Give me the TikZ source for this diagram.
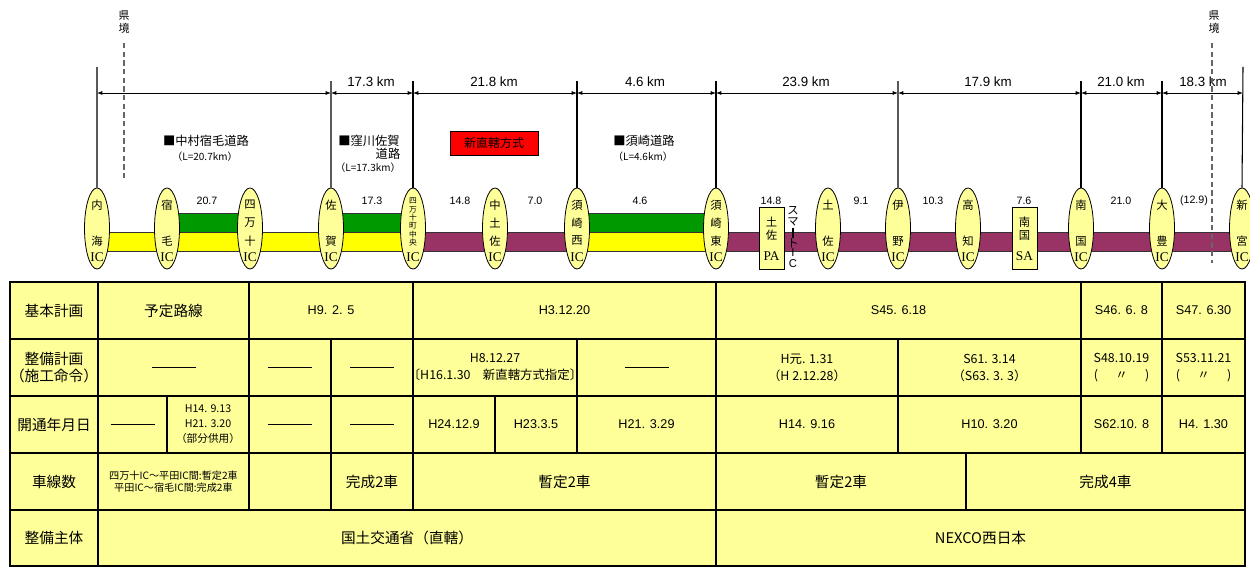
\documentclass[tikz,border=0pt]{standalone}
\usepackage{fontspec}
\usepackage{graphicx}
\setmainfont{Noto Sans CJK JP}
\newfontfamily\lat{Liberation Sans}
\newfontfamily\ser{Liberation Serif}
\usetikzlibrary{arrows.meta,shapes.geometric}
\definecolor{pale}{HTML}{FFFF99}
\definecolor{roady}{HTML}{FFFF00}
\definecolor{roadg}{HTML}{009900}
\definecolor{roadp}{HTML}{993366}
\definecolor{redfill}{HTML}{FF0000}
\newcommand\myfs[1]{\fontsize{#1}{#1}\selectfont}
\newcommand\dashbar{\rule{33pt}{1.1pt}}
\tikzset{
  icshape/.style={ellipse, draw=black, line width=0.6pt, fill=pale, minimum width=18.75pt, minimum height=60.75pt, inner sep=0pt},
  icch/.style={inner sep=0pt, font={\myfs{8.5}}},
  icsm/.style={inner sep=0pt, font={\myfs{5.8}}},
  icic/.style={inner sep=0pt, font={\ser\myfs{10}}},
  boxshape/.style={rectangle, draw=black, line width=0.6pt, fill=pale, minimum width=18.75pt, minimum height=46.5pt, inner sep=0pt},
  vlineg/.style={draw=black!65, line width=1.1pt},
  vlinek/.style={draw=black, line width=0.8pt},
  dim/.style={line width=0.6pt, {Latex[length=4pt,width=3pt]}-{Latex[length=4pt,width=3pt]}},
  pref/.style={draw=black!60, line width=0.9pt, dash pattern=on 4pt off 2.5pt},
  band/.style={draw=black!80, line width=0.5pt},
  cellbox/.style={fill=pale, draw=black, line width=0.9pt},
  dimlab/.style={inner sep=0pt, font={\lat\myfs{10}}},
  seglab/.style={inner sep=0pt, font={\lat\myfs{8}}},
  roadname/.style={inner sep=0pt, font={\myfs{9.2}}},
  roadlen/.style={inner sep=0pt, font={\myfs{7.5}}},
  kenlab/.style={inner sep=0pt, font={\myfs{8.2}}, align=center},
}
\newcommand\ictwo[4]{%
  \node[icshape] (#1) at (#2,228.5) {};
  \node[icch] (#1-a) at (#2,205) {#3};
  \node[icch] (#1-b) at (#2,241) {#4};
  \node[icic] (#1-ic) at (#2,257) {IC};}
\newcommand\icthree[5]{%
  \node[icshape] (#1) at (#2,228.5) {};
  \node[icch] (#1-a) at (#2,205) {#3};
  \node[icch] (#1-b) at (#2,223) {#4};
  \node[icch] (#1-c) at (#2,241) {#5};
  \node[icic] (#1-ic) at (#2,257) {IC};}
\newcommand\cell[7]{%
  \draw[cellbox] (#2,#3) rectangle (#4,#5);
  \node[align=center, inner sep=0pt, font={#6}] (#1) at ({(#2+#4)/2},{(#3+#5)/2}) {#7};}
\newcommand\fHd{\fontsize{11}{13}\selectfont}
\newcommand\fDt{\lat\fontsize{9.5}{12.75}\selectfont}
\newcommand\fMx{\fontsize{9.3}{12.75}\selectfont}
\newcommand\fSm{\fontsize{8}{11.25}\selectfont}
\newcommand\fTn{\fontsize{7.6}{9}\selectfont}
\begin{document}
\begin{tikzpicture}[x=0.75pt,y=-0.75pt]
\useasboundingbox (0,0) rectangle (1250,573);
\fill[white] (0,0) rectangle (1250,573);
\begin{scope}
\clip (0,0) rectangle (1250,573);

% prefecture border labels
\node[kenlab] (kenL) at (124,22) {県\\[1.8pt]境};
\node[kenlab] (kenR) at (1214,22) {県\\[1.8pt]境};

% dimension line
\coordinate (p0) at (97,93);
\coordinate (p1) at (331,93);
\coordinate (p2) at (413,93);
\coordinate (p3) at (577,93);
\coordinate (p4) at (716,93);
\coordinate (p5) at (898,93);
\coordinate (p6) at (1081,93);
\coordinate (p7) at (1162,93);
\coordinate (p8) at (1243,93);
\draw[dim] (p0) -- (p1);
\draw[dim] (p1) -- (p2);
\draw[dim] (p2) -- (p3);
\draw[dim] (p3) -- (p4);
\draw[dim] (p4) -- (p5);
\draw[dim] (p5) -- (p6);
\draw[dim] (p6) -- (p7);
\draw[dim] (p7) -- (p8);
\node[dimlab] (k1) at (371,82) {17.3 km};
\node[dimlab] (k2) at (494,82) {21.8 km};
\node[dimlab] (k3) at (645,82) {4.6 km};
\node[dimlab] (k4) at (806,82) {23.9 km};
\node[dimlab] (k5) at (988,82) {17.9 km};
\node[dimlab] (k6) at (1121,82) {21.0 km};
\node[dimlab] (k7) at (1203,82) {18.3 km};

% road names
\node[roadname] (n1) at (206,141) {■中村宿毛道路};
\node[roadlen] (n1l) at (205,157) {（L=20.7km）};
\node[roadname] (n2) at (369,141) {■窪川佐賀};
\node[roadname] (n2b) at (388,154) {道路};
\node[roadlen] (n2l) at (368,168) {（L=17.3km）};
\node[draw=black, line width=0.6pt, fill=redfill, text=black, minimum width=66pt, minimum height=18pt, inner sep=0pt, font={\myfs{9}}] (shin) at (494,143) {新直轄方式};
\node[roadname] (n3) at (644,141) {■須崎道路};
\node[roadlen] (n3l) at (643,157) {（L=4.6km）};

% road bands
\draw[band, fill=roady] (97,232) rectangle (413,251);
\draw[band, fill=roadg] (167,213) rectangle (250,232);
\draw[band, fill=roadg] (331,213) rectangle (413,232);
\draw[band, fill=roadp] (413,232) rectangle (577,251);
\draw[band, fill=roady] (577,232) rectangle (716,251);
\draw[band, fill=roadg] (577,213) rectangle (716,232);
\draw[band, fill=roadp] (716,232) rectangle (1252,251);

% segment lengths
\node[seglab] (s1) at (207,201) {20.7};
\node[seglab] (s2) at (372,201) {17.3};
\node[seglab] (s3) at (460,201) {14.8};
\node[seglab] (s4) at (535,201) {7.0};
\node[seglab] (s5) at (640,201) {4.6};
\node[seglab] (s6) at (771,201) {14.8};
\node[seglab] (s7) at (861,201) {9.1};
\node[seglab] (s8) at (933,201) {10.3};
\node[seglab] (s9) at (1024,201) {7.6};
\node[seglab] (s10) at (1121,201) {21.0};
\node[seglab] (s11) at (1194,201) {(12.9)};

% interchanges
\ictwo{uchiumi}{97}{内}{海}
\ictwo{sukumo}{167}{宿}{毛}
\icthree{shimanto}{250}{四}{万}{十}
\ictwo{saga}{331}{佐}{賀}
\node[icshape] (chuo) at (413,228.5) {};
\node[icsm] (chuo-1) at (413,201) {四};
\node[icsm] (chuo-2) at (413,209.4) {万};
\node[icsm] (chuo-3) at (413,217.8) {十};
\node[icsm] (chuo-4) at (413,226.2) {町};
\node[icsm] (chuo-5) at (413,234.6) {中};
\node[icsm] (chuo-6) at (413,243) {央};
\node[icic] (chuo-ic) at (413,257) {IC};
\icthree{nakatosa}{495}{中}{土}{佐}
\icthree{susakinishi}{577}{須}{崎}{西}
\icthree{susakihigashi}{716}{須}{崎}{東}
\ictwo{tosa}{828}{土}{佐}
\ictwo{ino}{898}{伊}{野}
\ictwo{kochi}{968}{高}{知}
\ictwo{nankoku}{1081}{南}{国}
\ictwo{otoyo}{1162}{大}{豊}
\ictwo{shingu}{1242}{新}{宮}

% parking / service areas
\node[boxshape] (pa) at (771.5,238) {};
\node[icch] (pa-a) at (771.5,222) {土};
\node[icch] (pa-b) at (771.5,235) {佐};
\node[icic] (pa-c) at (771.5,256) {PA};
\node[boxshape] (sa) at (1024.5,238.5) {};
\node[icch] (sa-a) at (1024.5,222) {南};
\node[icch] (sa-b) at (1024.5,235) {国};
\node[icic] (sa-c) at (1024.5,256) {SA};

% smart IC label
\node[icch] (sm1) at (793,211) {ス};
\node[icch] (sm2) at (793,222) {マ};
\node[inner sep=0pt] (sm3) at (793,233) {\rule{0.8pt}{8pt}};
\node[icch] (sm4) at (793,243) {ト};
\node[inner sep=0pt, font={\lat\myfs{8.5}}] (sm5) at (793,253) {I};
\node[inner sep=0pt, font={\lat\myfs{8.5}}] (sm6) at (793,264) {C};

% vertical lines
\draw[vlineg] (97,67) -- (uchiumi.north);
\draw[vlineg] (331,81) -- (saga.north);
\draw[vlinek] (413,81) -- (chuo.north);
\draw[vlinek] (577,81) -- (susakinishi.north);
\draw[vlinek] (716,81) -- (susakihigashi.north);
\draw[vlineg] (898,81) -- (ino.north);
\draw[vlinek] (1081,81) -- (nankoku.north);
\draw[vlinek] (1162,81) -- (otoyo.north);
\draw[vlinek] (1243,67) -- (shingu.north);

% prefecture borders
\coordinate (bl1) at (124,43);
\coordinate (bl2) at (124,178);
\coordinate (br1) at (1212,43);
\coordinate (br2) at (1212,263);
\draw[pref] (bl1) -- (bl2);
\draw[pref] (br1) -- (br2);

% table
\cell{h1}{10}{282}{98}{339}{\fHd}{基本計画}
\cell{h2}{10}{339}{98}{396}{\fHd}{整備計画\\（施工命令）}
\cell{h3}{10}{396}{98}{453}{\fHd}{開通年月日}
\cell{h4}{10}{453}{98}{510}{\fHd}{車線数}
\cell{h5}{10}{510}{98}{566}{\fHd}{整備主体}

\cell{a1}{98}{282}{249}{339}{\fHd}{予定路線}
\cell{a2}{249}{282}{413}{339}{\fDt}{H9. 2. 5}
\cell{a3}{413}{282}{716}{339}{\fDt}{H3.12.20}
\cell{a4}{716}{282}{1081}{339}{\fDt}{S45. 6.18}
\cell{a5}{1081}{282}{1162}{339}{\fDt}{S46. 6. 8}
\cell{a6}{1162}{282}{1245}{339}{\fDt}{S47. 6.30}

\cell{b1}{98}{339}{249}{396}{\fDt}{\dashbar}
\cell{b2}{249}{339}{331}{396}{\fDt}{\dashbar}
\cell{b3}{331}{339}{413}{396}{\fDt}{\dashbar}
\cell{b4}{413}{339}{577}{396}{\fMx}{H8.12.27\\〔H16.1.30　新直轄方式指定〕}
\cell{b5}{577}{339}{716}{396}{\fDt}{\dashbar}
\cell{b6}{716}{339}{898}{396}{\fMx}{H元. 1.31\\（H 2.12.28）}
\cell{b7}{898}{339}{1081}{396}{\fMx}{S61. 3.14\\（S63. 3. 3）}
\cell{b8}{1081}{339}{1162}{396}{\fMx}{S48.10.19\\(\hspace{1.4em}〃\hspace{1.4em})}
\cell{b9}{1162}{339}{1245}{396}{\fMx}{S53.11.21\\(\hspace{1.4em}〃\hspace{1.4em})}

\cell{c1}{98}{396}{167}{453}{\fDt}{\dashbar}
\cell{c2}{167}{396}{249}{453}{\fSm}{H14. 9.13\\H21. 3.20\\（部分供用）}
\cell{c3}{249}{396}{331}{453}{\fDt}{\dashbar}
\cell{c4}{331}{396}{413}{453}{\fDt}{\dashbar}
\cell{c5}{413}{396}{495}{453}{\fDt}{H24.12.9}
\cell{c6}{495}{396}{577}{453}{\fDt}{H23.3.5}
\cell{c7}{577}{396}{716}{453}{\fDt}{H21. 3.29}
\cell{c8}{716}{396}{898}{453}{\fDt}{H14. 9.16}
\cell{c9}{898}{396}{1081}{453}{\fDt}{H10. 3.20}
\cell{c10}{1081}{396}{1162}{453}{\fDt}{S62.10. 8}
\cell{c11}{1162}{396}{1245}{453}{\fDt}{H4. 1.30}

\cell{d1}{98}{453}{249}{510}{\fTn}{四万十IC～平田IC間:暫定2車\\平田IC～宿毛IC間:完成2車}
\cell{d2}{249}{453}{331}{510}{\fHd}{}
\cell{d3}{331}{453}{413}{510}{\fHd}{完成2車}
\cell{d4}{413}{453}{716}{510}{\fHd}{暫定2車}
\cell{d5}{716}{453}{966}{510}{\fHd}{暫定2車}
\cell{d6}{966}{453}{1245}{510}{\fHd}{完成4車}

\cell{e1}{98}{510}{716}{566}{\fHd}{国土交通省（直轄）}
\cell{e2}{716}{510}{1245}{566}{\fHd}{NEXCO西日本}
\end{scope}
\end{tikzpicture}
\end{document}
